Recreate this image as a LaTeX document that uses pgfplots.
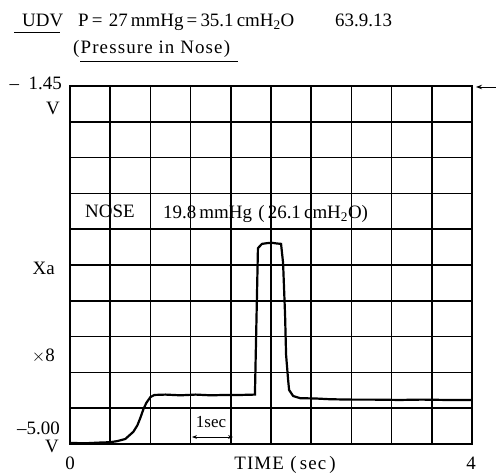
\documentclass[border=0pt]{standalone}
\usepackage{fontspec}
\setmainfont{Liberation Serif}
\usepackage{pgfplots}
\pgfplotsset{compat=1.18}
\usetikzlibrary{arrows.meta}

% pressure trace, x in s, y in grid divisions from the bottom line
\pgfplotstableread{
t     d
0.00  0.03
0.15  0.02
0.30  0.04
0.40  0.05
0.47  0.08
0.55  0.14
0.63  0.34
0.67  0.52
0.70  0.73
0.73  0.97
0.76  1.15
0.80  1.31
0.84  1.37
0.95  1.38
1.10  1.36
1.25  1.38
1.40  1.36
1.55  1.37
1.70  1.37
1.84  1.38
1.87  5.47
1.91  5.59
1.96  5.61
2.01  5.62
2.06  5.60
2.10  5.59
2.12  5.06
2.14  3.60
2.15  2.49
2.17  1.80
2.18  1.51
2.22  1.34
2.29  1.28
2.45  1.27
2.59  1.25
2.80  1.24
3.00  1.24
3.28  1.23
3.50  1.24
3.75  1.23
4.00  1.23
}\trace

\newcommand\wide[1]{{\addfontfeatures{LetterSpace=6}#1}}

\begin{document}
\begin{tikzpicture}[x=1bp,y=1bp, every node/.style={inner sep=0pt, font=\fontsize{19}{22}\selectfont}]
\path[use as bounding box] (0,0) rectangle (496,473);
\begin{axis}[
    at={(70bp,29bp)}, anchor=origin,
    scale only axis,
    width=402bp, height=358bp,
    xmin=0, xmax=4, ymin=0, ymax=10,
    xtick={0,0.4,0.8,1.2,1.6,2,2.4,2.8,3.2,3.6,4}, ytick={0,1,...,10},
    xticklabels={}, yticklabels={},
    major tick length=0pt,
    grid=major,
    grid style={black, line width=1.5bp},
    axis line style={black, line width=1.8bp},
    clip=false,
]
\addplot[black, line width=2.2bp] table[x=t, y=d] {\trace};
\end{axis}

% header
\node[anchor=base west] at (22,446) {UDV};
\draw[line width=0.8pt] (14,441) -- (60,441);
\node[anchor=base west] at (78,446) {P\,=\,\,27\,mmHg\,=\,35.1\,cmH\textsubscript{2}O};
\node[anchor=base west] at (335,446) {63.9.13};
\node[anchor=base west] at (73,419) {\wide{(Pressure\ in\ Nose)}};
\draw[line width=0.8pt] (80,412) -- (238,412);

% y annotations
\node[anchor=base east] at (62,383) {\textendash\ \ 1.45};
\node[anchor=base east] at (60,358) {V};
\node[anchor=base east] at (55,198) {Xa};
\node[anchor=base east] at (55,111) {$\times$8};
\node[anchor=base east] at (60,38) {\textendash5.00};
\node[anchor=base east] at (59,20) {V};

% x annotations
\node[anchor=base] at (70,3) {0};
\node[anchor=base] at (285,3) {\wide{TIME\,\,(\,sec\,)}};
\node[anchor=base] at (471,3) {4};

% in-plot text
\node[anchor=base west] at (85,255) {NOSE};
\node[anchor=base west] at (163,254) {19.8\,mmHg\,\,(\,26.1\,cmH\textsubscript{2}O)};
\node[anchor=base, font=\fontsize{17}{19}\selectfont] at (211,45) {1sec};
\draw[{Stealth[length=5pt]}-{Stealth[length=5pt]}, line width=0.9pt] (192,36) -- (233,36);

% marker arrow at the top right
\draw[-{Stealth[length=6pt]}, line width=0.9pt] (496,386) -- (476,386);
\end{tikzpicture}
\end{document}
